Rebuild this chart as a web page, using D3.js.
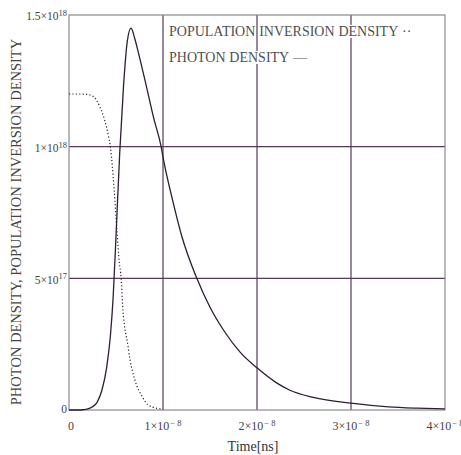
<!DOCTYPE html>
<html><head><meta charset="utf-8">
<script src="https://cdn.jsdelivr.net/npm/d3@7"></script>
<style>body{margin:0;background:#fff;}svg{display:block;}</style>
</head><body>
<svg id="c" width="461" height="455"></svg>
<script>
// time values (s)
const tPhoton = [0,0.1e-8,0.15e-8,0.2e-8,0.25e-8,0.3e-8,0.35e-8,0.4e-8,0.44e-8,0.47e-8,0.5e-8,0.54e-8,0.58e-8,0.62e-8,0.66e-8,0.70e-8,0.75e-8,0.81e-8,0.9e-8,0.98e-8,1.0e-8,1.1e-8,1.2e-8,1.36e-8,1.5e-8,1.65e-8,1.82e-8,2.0e-8,2.2e-8,2.35e-8,2.6e-8,3.0e-8,3.4e-8,3.7e-8,4.0e-8];
const photonDensity = [0,0,0.001e18,0.004e18,0.012e18,0.03e18,0.075e18,0.16e18,0.28e18,0.43e18,0.66e18,0.98e18,1.23e18,1.40e18,1.45e18,1.41e18,1.34e18,1.25e18,1.11e18,1.0e18,0.96e18,0.80e18,0.66e18,0.50e18,0.39e18,0.30e18,0.22e18,0.16e18,0.105e18,0.075e18,0.048e18,0.026e18,0.012e18,0.007e18,0.004e18];
const tInversion = [0,0.1e-8,0.2e-8,0.26e-8,0.33e-8,0.38e-8,0.42e-8,0.44e-8,0.46e-8,0.48e-8,0.51e-8,0.535e-8,0.555e-8,0.57e-8,0.59e-8,0.62e-8,0.65e-8,0.70e-8,0.78e-8,0.84e-8,0.92e-8,1.0e-8];
const inversionDensity = [1.2e18,1.2e18,1.198e18,1.19e18,1.15e18,1.10e18,1.04e18,1.0e18,0.93e18,0.84e18,0.68e18,0.56e18,0.50e18,0.40e18,0.32e18,0.26e18,0.19e18,0.115e18,0.05e18,0.02e18,0.008e18,0.003e18];
const xTicks = [0,1e-8,2e-8,3e-8,4e-8];
const xTickLabels = [["0",""],["1×10","− 8"],["2×10","− 8"],["3×10","− 8"],["4×10","− 8"]];
const yTicks = [0,5e17,1e18,1.5e18];
const yTickLabels = [["0",""],["5×10","17"],["1×10","18"],["1.5×10","18"]];
const legendLabels = ["POPULATION INVERSION DENSITY ··","PHOTON DENSITY —"];
const xTitle = "Time[ns]";
const yTitle = "PHOTON DENSITY, POPULATION INVERSION DENSITY";

const L=69,R=445,T=15,B=410;
const svg=d3.select("#c");
const font="'Liberation Serif','Times New Roman',serif";
const x=d3.scaleLinear().domain([0,4e-8]).range([L,R]);
const y=d3.scaleLinear().domain([0,1.5e18]).range([B,T]);
const gridColor="#55385a", frameColor="#8a8a8a", curveColor="#2e1d33", textColor="#3f3f3f";

// grid
svg.append("g").selectAll("line").data(xTicks.slice(1,-1)).join("line")
  .attr("x1",d=>x(d)).attr("x2",d=>x(d)).attr("y1",T).attr("y2",B)
  .attr("stroke",gridColor).attr("stroke-width",1.2);
svg.append("g").selectAll("line").data(yTicks.slice(1,-1)).join("line")
  .attr("y1",d=>y(d)).attr("y2",d=>y(d)).attr("x1",L).attr("x2",R)
  .attr("stroke",gridColor).attr("stroke-width",1.2);

// legend with white word boxes
const lg=svg.append("g");
const legendY=[31,57];
legendLabels.forEach((lab,i)=>{
  let cx=169;
  const words=lab.split(" ");
  words.forEach((w,j)=>{
    const t=lg.append("text").attr("x",cx).attr("y",legendY[i]).attr("dy","0.35em")
      .attr("font-family",font).attr("font-size",14).attr("fill","#505050").text(w);
    const bb=t.node().getBBox();
    lg.insert("rect","text").attr("x",bb.x).attr("y",bb.y+1).attr("width",bb.width).attr("height",bb.height-2).attr("fill","#fff");
    cx+=bb.width+3.8;
  });
});

// frame
svg.append("rect").attr("x",L).attr("y",T).attr("width",R-L).attr("height",B-T)
  .attr("fill","none").attr("stroke",frameColor).attr("stroke-width",1.2);

// curves
const line=d3.line().curve(d3.curveMonotoneX).x(d=>x(d[0])).y(d=>y(d[1]));
svg.append("path").datum(tInversion.map((t,i)=>[t,inversionDensity[i]]))
  .attr("d",line).attr("fill","none").attr("stroke",curveColor).attr("stroke-width",1.2)
  .attr("stroke-dasharray","1.2,2.2");
svg.append("path").datum(tPhoton.map((t,i)=>[t,photonDensity[i]]))
  .attr("d",line).attr("fill","none").attr("stroke",curveColor).attr("stroke-width",1.3);

// y tick labels
const yl=svg.append("g");
yTicks.forEach((v,i)=>{
  const t=yl.append("text").attr("x",L-2).attr("y",y(v)).attr("dy",i===0?"0.3em":"0.45em")
    .attr("text-anchor","end").attr("font-family",font).attr("font-size",11.5).attr("fill",textColor);
  t.append("tspan").text(yTickLabels[i][0]);
  if(yTickLabels[i][1]) t.append("tspan").attr("dy","-0.5em").attr("font-size",8.5).text(yTickLabels[i][1]);
});
// x tick labels
const xl=svg.append("g");
xTicks.forEach((v,i)=>{
  const t=xl.append("text").attr("x",x(v)+(i===0?2:0)).attr("y",430)
    .attr("text-anchor","middle").attr("font-family",font).attr("font-size",12).attr("fill",textColor);
  t.append("tspan").text(xTickLabels[i][0]);
  if(xTickLabels[i][1]) t.append("tspan").attr("dy","-0.5em").attr("font-size",8.5).attr("dx","1").text(xTickLabels[i][1]);
});

// titles
svg.append("text").attr("x",253).attr("y",451).attr("text-anchor","middle")
  .attr("font-family",font).attr("font-size",14).attr("fill","#333").text(xTitle);
svg.append("text").attr("transform","translate(21,222) rotate(-90)").attr("text-anchor","middle")
  .attr("font-family",font).attr("font-size",14.5).attr("fill","#444").text(yTitle);
</script>
</body></html>
